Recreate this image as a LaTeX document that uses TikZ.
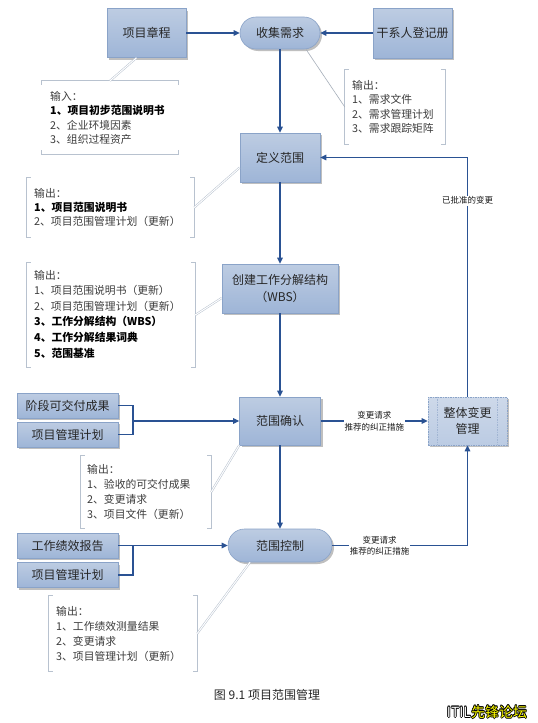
\documentclass[tikz,border=0pt]{standalone}
\usepackage{fontspec}
\setmainfont{Noto Sans CJK SC}
\usetikzlibrary{arrows.meta,shapes.misc,shadows,calc}
\definecolor{boxtop}{HTML}{BDCCE2}
\definecolor{boxbot}{HTML}{9EB5D7}
\definecolor{boxline}{HTML}{8AA3C8}
\definecolor{arrowc}{HTML}{2A5293}
\definecolor{brk}{HTML}{B8C2CF}
\definecolor{ctxt}{HTML}{3C3C3C}
\definecolor{wmy}{HTML}{FFFF00}
\newcommand\bkl[1]{{\bfseries\color{black}#1}}
\newcommand\clines[5]{%
  \foreach \t [count=\i] in {#5}
    \node[ctext] (#1\i) at (#2,{#3+#4*(\i-1)}) {\t};}
\tikzset{
 basebox/.style={draw=boxline, line width=0.6pt, top color=boxtop, bottom color=boxbot,
   drop shadow={shadow xshift=2pt, shadow yshift=-2pt, fill=black!45, opacity=0.55},
   inner sep=0pt, text=black!85, font=\fontsize{12}{16.5}\selectfont, align=center},
 procbox/.style={basebox, rectangle},
 roundbox/.style={basebox, rounded rectangle},
 smallbox/.style={basebox, rectangle, minimum width=101pt, minimum height=25pt},
 arr/.style={draw=arrowc, line width=1.1pt, -{Triangle[length=6pt,width=5.5pt]}},
 link/.style={draw=arrowc, line width=1.1pt},
 lbl/.style={fill=white, inner sep=1pt, align=center, font=\fontsize{8.5}{11.5}\selectfont, text=black!90},
 cbox/.style={inner sep=0pt, draw=none, fill=none},
 brack/.style={draw=brk, line width=0.9pt},
 cline/.style={draw=brk, double=white, double distance=1pt, line width=0.5pt},
 clinesingle/.style={draw=brk!90!black, line width=0.6pt},
 ctext/.style={anchor=west, inner sep=0pt, text height=9.5pt, text depth=1.3pt,
   font=\fontsize{10.8}{13}\selectfont, text=ctxt},
}
\begin{document}
\begin{tikzpicture}[x=1pt,y=-1pt]
\useasboundingbox (0,0) rectangle (538,723);
\fill[white] (0,0) rectangle (538,723);

% main process nodes
\node[procbox, minimum width=79pt, minimum height=49pt] (zc) at (146.5,33) {项目章程};
\node[roundbox, minimum width=80pt, minimum height=32pt] (sj) at (280,33) {收集需求};
\node[procbox, minimum width=79pt, minimum height=50pt] (gx) at (412.5,33) {干系人登记册};
\node[procbox, minimum width=80pt, minimum height=49pt] (dy) at (280,157.5) {定义范围};
\node[procbox, minimum width=116pt, minimum height=49pt] (wbs) at (280,288.5) {创建工作分解结构\\（WBS）};
\node[procbox, minimum width=81pt, minimum height=48pt] (qr) at (280,421) {范围确认};
\node[procbox, minimum width=79pt, minimum height=48pt, top color=boxtop!75, bottom color=boxbot!70, draw=boxline, dashed, dash pattern=on 1.5pt off 1pt] (zt) at (467.5,421) {整体变更\\管理};
\draw[draw=boxline!80, dash pattern=on 1.5pt off 1pt, line width=0.5pt] ([xshift=10pt]zt.north west) -- ([xshift=10pt]zt.south west);
\draw[draw=boxline!80, dash pattern=on 1.5pt off 1pt, line width=0.5pt] ([xshift=-10pt]zt.north east) -- ([xshift=-10pt]zt.south east);
\node[roundbox, minimum width=104pt, minimum height=33pt] (kz) at (280,545.5) {范围控制};

% input boxes
\node[smallbox] (jd) at (67.5,405.5) {阶段可交付成果};
\node[smallbox] (pm1) at (67.5,434.5) {项目管理计划};
\node[smallbox] (jx) at (67.5,545.5) {工作绩效报告};
\node[smallbox] (pm2) at (67.5,575) {项目管理计划};

% connectors
\draw[arr] (zc.east) -- (sj.west);
\draw[arr] (gx.west) -- (sj.east);
\draw[arr] (sj.south) -- (dy.north);
\draw[arr] (dy.south) -- (wbs.north);
\draw[arr] (wbs.south) -- (qr.north);
\draw[arr] (qr.south) -- (kz.north);

\coordinate (j1) at (133,421);
\draw[link] (jd.east) -| (j1);
\draw[link] (pm1.east) -| (j1);
\draw[arr] (j1) -- (j1 -| qr.west);

\coordinate (j2) at (133,545.5);
\draw[link] (pm2.east) -| (j2);
\draw[arr] (jx.east) -- (kz.west);

\draw[arr] (qr.east) -- node[lbl] (l1) {变更请求\\推荐的纠正措施} (zt.west);
\draw[arr] (kz.east) -- node[lbl, pos=0.35] (l2) {变更请求\\推荐的纠正措施} (kz.east -| zt.south) -- (zt.south);
\draw[arr] (zt.north) -- node[lbl, pos=0.82] (l3) {已批准的变更} (zt.north |- dy.east) -- (dy.east);

% callout boxes
\node[cbox, minimum width=136pt, minimum height=73pt] (ca) at (110,117.5) {};
\node[cbox, minimum width=100pt, minimum height=74pt] (cb) at (395,107) {};
\node[cbox, minimum width=167pt, minimum height=59pt] (cc) at (110.5,207.5) {};
\node[cbox, minimum width=168pt, minimum height=104pt] (cd) at (111,315) {};
\node[cbox, minimum width=130pt, minimum height=72pt] (ce) at (146,492) {};
\node[cbox, minimum width=148pt, minimum height=75pt] (cf) at (123,633.5) {};

% horizontal bracket (input box)
\draw[brack] ([yshift=-4pt]ca.north west) -- (ca.north west) -- (ca.north east) -- ([yshift=-4pt]ca.north east);
\draw[brack] ([yshift=4pt]ca.south west) -- (ca.south west) -- (ca.south east) -- ([yshift=4pt]ca.south east);
% vertical brackets
\foreach \c in {cb,cc,cd,ce,cf}{
  \draw[brack] ([xshift=4pt]\c.north west) -- (\c.north west) -- (\c.south west) -- ([xshift=4pt]\c.south west);
  \draw[brack] ([xshift=-4pt]\c.north east) -- (\c.north east) -- (\c.south east) -- ([xshift=-4pt]\c.south east);
}

% callout lines
\draw[cline] ([xshift=-10pt]zc.south) -- (ca.north);
\draw[clinesingle] (sj.-32) -- (cb.west);
\draw[cline] ([yshift=-10pt]dy.west) -- (cc.east);
\draw[cline] ([yshift=-9.5pt]wbs.west) -- (cd.east);
\draw[cline] (qr.south west) -- (ce.east);
\draw[cline] ([xshift=-30pt]kz.south) -- (cf.east);

% callout texts
\clines{ta}{50}{96}{14.5}{输入：,{\bkl{1、项目初步范围说明书}},2、企业环境因素,3、组织过程资产}
\clines{tb}{352}{85}{14.5}{输出：,1、需求文件,2、需求管理计划,3、需求跟踪矩阵}
\clines{tc}{34}{193}{14}{输出：,{\bkl{1、项目范围说明书}},2、项目范围管理计划（更新）}
\clines{td}{34}{275}{15.6}{输出：,1、项目范围说明书（更新）,2、项目范围管理计划（更新）,{\bkl{3、工作分解结构（WBS）}},{\bkl{4、工作分解结果词典}},{\bkl{5、范围基准}}}
\clines{te}{87}{469}{15}{输出：,1、验收的可交付成果,2、变更请求,3、项目文件（更新）}
\clines{tf}{56}{611}{15}{输出：,1、工作绩效测量结果,2、变更请求,3、项目管理计划（更新）}

% caption
\node[font=\fontsize{12}{14}\selectfont, text=black!85, inner sep=0pt] (cap) at (267,695) {图 9.1 项目范围管理};

% watermark
\foreach \dx/\dy [count=\k] in {-0.7/0,0.7/0,0/-0.7,0/0.7,-0.5/-0.5,0.5/0.5,-0.5/0.5,0.5/-0.5}
  \node[font=\fontsize{14}{16}\selectfont, text=black, inner sep=0pt] (wmo\k) at ({487+\dx},{712+\dy}) {ITIL先锋论坛};
\node[font=\fontsize{14}{16}\selectfont, inner sep=0pt] (wm) at (487,712) {\textcolor{white}{ITIL}\textcolor{wmy}{先锋论坛}};
\end{tikzpicture}
\end{document}
